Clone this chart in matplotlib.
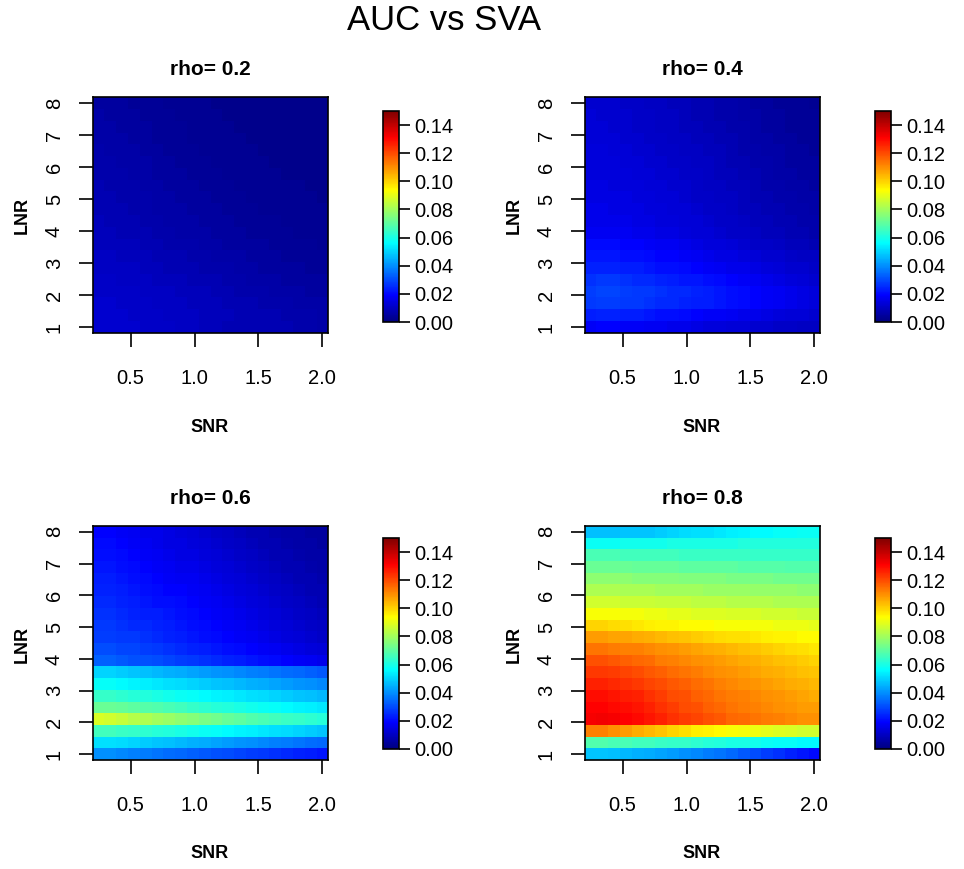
import matplotlib.pyplot as plt
import numpy as np
from matplotlib.colors import LinearSegmentedColormap

plt.rcParams['font.family'] = ['Liberation Sans', 'DejaVu Sans']

# grid of the simulation
snr = [0.25, 0.34, 0.43, 0.53, 0.62, 0.71, 0.80, 0.89, 0.99, 1.08,
       1.17, 1.26, 1.36, 1.45, 1.54, 1.63, 1.72, 1.82, 1.91, 2.00]
lnr = [1.00, 1.37, 1.74, 2.11, 2.47, 2.84, 3.21, 3.58, 3.95, 4.32,
       4.68, 5.05, 5.42, 5.79, 6.16, 6.53, 6.89, 7.26, 7.63, 8.00]

rhos = ["0.2", "0.4", "0.6", "0.8"]

# AUC difference, in thousandths; rows = lnr (bottom to top), cols = snr
auc_rho02 = [
    [12, 12, 12, 12, 11, 11, 11, 10, 10, 9, 9, 8, 8, 8, 8, 8, 8, 7, 7, 6],
    [12, 12, 12, 11, 11, 11, 10, 10, 10, 9, 9, 9, 8, 8, 8, 8, 7, 7, 7, 6],
    [12, 12, 11, 11, 11, 10, 10, 10, 9, 9, 9, 8, 8, 8, 7, 7, 7, 6, 6, 6],
    [11, 11, 11, 11, 10, 10, 10, 9, 9, 9, 8, 8, 7, 7, 7, 6, 6, 6, 5, 5],
    [11, 11, 10, 10, 10, 9, 9, 9, 8, 8, 8, 7, 7, 6, 6, 6, 5, 5, 5, 5],
    [10, 10, 10, 10, 9, 9, 8, 8, 8, 7, 7, 7, 6, 6, 5, 5, 5, 5, 4, 4],
    [10, 10, 9, 9, 9, 8, 8, 8, 7, 7, 6, 6, 6, 5, 5, 5, 4, 4, 4, 4],
    [9, 9, 9, 9, 8, 8, 7, 7, 7, 6, 6, 5, 5, 5, 5, 4, 4, 4, 4, 3],
    [9, 9, 8, 8, 8, 7, 7, 6, 6, 6, 5, 5, 5, 4, 4, 4, 4, 3, 3, 3],
    [9, 8, 8, 8, 7, 7, 6, 6, 6, 5, 5, 5, 4, 4, 4, 4, 3, 3, 3, 3],
    [8, 8, 8, 7, 7, 6, 6, 6, 5, 5, 5, 4, 4, 4, 3, 3, 3, 3, 3, 3],
    [8, 8, 7, 7, 7, 6, 6, 5, 5, 5, 4, 4, 4, 3, 3, 3, 3, 3, 3, 2],
    [8, 7, 7, 7, 6, 6, 5, 5, 5, 4, 4, 4, 3, 3, 3, 3, 3, 3, 2, 2],
    [7, 7, 7, 6, 6, 5, 5, 5, 4, 4, 4, 3, 3, 3, 3, 3, 2, 2, 2, 2],
    [7, 7, 6, 6, 6, 5, 5, 4, 4, 4, 3, 3, 3, 3, 3, 2, 2, 2, 2, 2],
    [7, 6, 6, 6, 5, 5, 4, 4, 4, 3, 3, 3, 3, 3, 2, 2, 2, 2, 2, 2],
    [6, 6, 6, 5, 5, 4, 4, 4, 3, 3, 3, 3, 3, 2, 2, 2, 2, 2, 2, 2],
    [6, 6, 5, 5, 5, 4, 4, 4, 3, 3, 3, 3, 2, 2, 2, 2, 2, 2, 2, 2],
    [6, 5, 5, 5, 4, 4, 4, 3, 3, 3, 3, 2, 2, 2, 2, 2, 2, 2, 2, 2],
    [5, 5, 5, 4, 4, 4, 3, 3, 3, 3, 2, 2, 2, 2, 2, 2, 2, 2, 2, 2],
]

auc_rho04 = [
    [18, 19, 19, 18, 18, 17, 17, 16, 16, 15, 14, 14, 13, 13, 12, 12, 11, 11, 10, 10],
    [23, 24, 24, 23, 23, 22, 21, 21, 20, 19, 18, 18, 17, 16, 16, 15, 14, 13, 13, 12],
    [27, 28, 28, 27, 27, 26, 25, 25, 24, 23, 23, 22, 21, 20, 19, 18, 17, 16, 15, 14],
    [28, 29, 29, 28, 27, 27, 26, 25, 25, 24, 23, 22, 21, 20, 19, 18, 17, 16, 15, 14],
    [26, 27, 27, 26, 25, 25, 24, 23, 22, 22, 21, 20, 19, 18, 17, 16, 15, 14, 13, 12],
    [24, 24, 24, 23, 23, 22, 21, 21, 20, 19, 18, 17, 16, 16, 15, 14, 13, 12, 12, 11],
    [22, 22, 22, 21, 21, 20, 19, 19, 18, 17, 16, 15, 15, 14, 13, 12, 12, 11, 10, 10],
    [20, 20, 20, 19, 19, 18, 17, 17, 16, 15, 14, 14, 13, 12, 11, 11, 10, 9, 9, 8],
    [17, 17, 17, 17, 16, 16, 15, 15, 14, 13, 13, 12, 11, 11, 10, 9, 9, 8, 8, 7],
    [16, 16, 16, 16, 15, 15, 14, 14, 13, 13, 12, 11, 11, 10, 9, 9, 8, 8, 7, 7],
    [16, 16, 15, 15, 15, 14, 14, 13, 13, 12, 11, 11, 10, 9, 9, 8, 8, 7, 7, 6],
    [15, 15, 15, 15, 14, 14, 13, 13, 12, 11, 11, 10, 10, 9, 8, 8, 7, 7, 6, 6],
    [15, 15, 14, 14, 14, 13, 13, 12, 12, 11, 10, 10, 9, 9, 8, 7, 7, 6, 6, 5],
    [14, 14, 14, 14, 13, 13, 12, 12, 11, 11, 10, 9, 9, 8, 8, 7, 6, 6, 5, 5],
    [14, 14, 14, 13, 13, 12, 12, 11, 11, 10, 10, 9, 8, 8, 7, 7, 6, 5, 5, 5],
    [14, 14, 13, 13, 12, 12, 11, 11, 10, 10, 9, 9, 8, 7, 7, 6, 6, 5, 5, 4],
    [13, 13, 13, 12, 12, 11, 11, 10, 10, 9, 9, 8, 8, 7, 6, 6, 5, 5, 4, 4],
    [13, 13, 12, 12, 11, 11, 10, 10, 9, 9, 8, 8, 7, 7, 6, 5, 5, 4, 4, 4],
    [13, 12, 12, 12, 11, 11, 10, 10, 9, 8, 8, 7, 7, 6, 6, 5, 5, 4, 4, 4],
    [12, 12, 12, 11, 11, 10, 10, 9, 9, 8, 8, 7, 7, 6, 5, 5, 4, 4, 4, 3],
]

auc_rho06 = [
    [40, 40, 39, 38, 37, 36, 35, 34, 33, 32, 31, 30, 29, 28, 27, 26, 25, 24, 23, 22],
    [52, 52, 51, 50, 49, 48, 47, 46, 45, 44, 43, 42, 41, 40, 39, 38, 37, 36, 35, 34],
    [66, 66, 65, 64, 63, 62, 61, 60, 59, 58, 57, 56, 55, 54, 53, 52, 51, 50, 49, 48],
    [88, 87, 85, 83, 82, 80, 79, 77, 76, 74, 73, 71, 70, 68, 67, 66, 65, 64, 63, 62],
    [72, 72, 71, 70, 69, 68, 67, 66, 64, 63, 62, 61, 60, 59, 58, 57, 56, 55, 54, 53],
    [64, 64, 63, 62, 61, 60, 59, 58, 57, 56, 55, 54, 53, 52, 51, 50, 49, 48, 47, 46],
    [57, 57, 56, 55, 54, 53, 52, 51, 50, 49, 48, 47, 46, 45, 44, 43, 42, 41, 40, 39],
    [50, 50, 49, 48, 47, 46, 45, 44, 43, 42, 41, 40, 39, 38, 37, 36, 35, 34, 33, 32],
    [33, 33, 32, 31, 31, 30, 29, 28, 27, 26, 25, 24, 23, 22, 21, 20, 19, 18, 17, 16],
    [30, 30, 29, 29, 28, 27, 26, 25, 24, 23, 22, 21, 20, 19, 18, 17, 16, 15, 14, 13],
    [28, 28, 27, 27, 26, 25, 24, 23, 22, 21, 20, 19, 18, 17, 16, 15, 14, 13, 12, 11],
    [27, 27, 26, 25, 25, 24, 23, 22, 21, 20, 19, 18, 17, 16, 15, 14, 13, 12, 11, 10],
    [26, 26, 25, 24, 23, 23, 22, 21, 20, 19, 18, 17, 16, 15, 14, 13, 12, 11, 10, 9],
    [25, 25, 24, 23, 22, 21, 21, 20, 19, 18, 17, 16, 15, 14, 13, 12, 11, 10, 9, 8],
    [24, 24, 23, 22, 21, 20, 19, 19, 18, 17, 16, 15, 14, 13, 12, 11, 10, 9, 8, 8],
    [23, 23, 22, 21, 20, 19, 18, 17, 17, 16, 15, 14, 13, 12, 11, 10, 9, 8, 8, 7],
    [22, 22, 21, 20, 19, 18, 17, 16, 16, 15, 14, 13, 12, 11, 10, 9, 8, 8, 7, 6],
    [21, 21, 20, 19, 18, 17, 16, 15, 15, 14, 13, 12, 11, 10, 9, 8, 8, 7, 6, 6],
    [20, 20, 19, 18, 17, 16, 15, 15, 14, 13, 12, 11, 10, 9, 8, 8, 7, 6, 6, 5],
    [19, 19, 18, 17, 16, 16, 15, 14, 13, 12, 11, 10, 9, 8, 8, 7, 6, 6, 5, 5],
]

auc_rho08 = [
    [48, 48, 47, 46, 45, 44, 43, 42, 40, 39, 37, 36, 34, 32, 30, 28, 26, 24, 22, 20],
    [68, 68, 67, 67, 66, 66, 65, 64, 64, 63, 62, 61, 60, 60, 59, 58, 57, 57, 56, 56],
    [112, 112, 110, 108, 106, 104, 102, 100, 98, 96, 95, 94, 93, 92, 91, 90, 89, 88, 87, 87],
    [132, 133, 132, 131, 130, 128, 126, 124, 122, 121, 119, 118, 116, 115, 114, 113, 112, 111, 110, 110],
    [131, 131, 130, 129, 128, 126, 124, 122, 120, 119, 117, 116, 114, 113, 112, 111, 110, 109, 108, 108],
    [129, 129, 128, 127, 126, 124, 122, 120, 119, 117, 116, 114, 113, 112, 111, 110, 109, 108, 107, 106],
    [126, 126, 125, 124, 123, 121, 120, 118, 117, 115, 114, 112, 111, 110, 109, 108, 107, 106, 105, 104],
    [123, 123, 122, 121, 120, 118, 117, 115, 114, 113, 111, 110, 109, 108, 107, 106, 105, 104, 103, 102],
    [119, 119, 118, 117, 116, 115, 113, 112, 111, 110, 109, 108, 107, 106, 105, 104, 103, 102, 101, 100],
    [114, 114, 113, 112, 112, 111, 110, 109, 108, 107, 106, 105, 104, 103, 102, 101, 100, 99, 98, 97],
    [108, 108, 107, 107, 106, 105, 104, 103, 102, 101, 100, 99, 98, 98, 97, 96, 95, 95, 94, 94],
    [100, 100, 99, 98, 97, 96, 95, 95, 94, 94, 94, 93, 93, 93, 92, 92, 91, 91, 91, 90],
    [93, 93, 93, 92, 92, 91, 91, 90, 90, 89, 89, 89, 88, 88, 88, 87, 87, 87, 86, 86],
    [87, 87, 87, 86, 86, 86, 85, 85, 85, 84, 84, 84, 83, 83, 83, 83, 82, 82, 82, 82],
    [82, 82, 82, 81, 81, 81, 80, 80, 80, 80, 79, 79, 79, 79, 78, 78, 78, 78, 77, 77],
    [77, 77, 77, 77, 76, 76, 76, 76, 75, 75, 75, 75, 74, 74, 74, 74, 73, 73, 73, 73],
    [72, 72, 72, 72, 71, 71, 71, 71, 70, 70, 70, 70, 70, 69, 69, 69, 69, 68, 68, 68],
    [67, 67, 67, 66, 66, 66, 66, 66, 65, 65, 65, 65, 65, 65, 64, 64, 64, 64, 64, 64],
    [58, 58, 58, 59, 59, 59, 59, 60, 60, 60, 60, 60, 60, 61, 61, 61, 61, 61, 61, 61],
    [47, 47, 47, 48, 48, 48, 49, 50, 51, 52, 52, 53, 54, 55, 56, 56, 57, 57, 58, 58],
]

panels = [auc_rho02, auc_rho04, auc_rho06, auc_rho08]

# R style jet.colors
jet = LinearSegmentedColormap.from_list(
    "rjet", ["#00007F", "#0000FF", "#007FFF", "#00FFFF", "#7FFF7F",
             "#FFFF00", "#FF7F00", "#FF0000", "#7F0000"])

W, H = 964, 869


def px_box(left, top, right, bottom):
    return [left / W, 1 - bottom / H, (right - left) / W, (bottom - top) / H]


fig = plt.figure(figsize=(W / 100, H / 100), dpi=100)
fig.text(444 / W, 1 - 20 / H, "AUC vs SVA", ha="center", va="center", fontsize=25)

ax_left = [93, 585]
cb_left = [383, 875]
rows_top = [(97, 333, 111, 322), (526, 760, 538, 749)]

for i, vals in enumerate(panels):
    r, c = divmod(i, 2)
    top, bottom, cb_top, cb_bottom = rows_top[r]
    x0 = ax_left[c]

    ax = fig.add_axes(px_box(x0, top, x0 + 235, bottom))
    z = np.array(vals) / 1000.0
    mesh = ax.pcolormesh(snr, lnr, z, cmap=jet, vmin=0, vmax=0.15, shading="nearest")

    ax.set_xticks([0.5, 1.0, 1.5, 2.0])
    ax.set_xticklabels(["0.5", "1.0", "1.5", "2.0"])
    ax.set_yticks(range(1, 9))
    ax.tick_params(axis="x", length=10, width=1.2, pad=16, labelsize=14.5)
    ax.tick_params(axis="y", length=10, width=1.2, pad=11, labelsize=14.5, labelrotation=90)
    for lab in ax.get_yticklabels():
        lab.set_va("center")
    for sp in ax.spines.values():
        sp.set_linewidth(1.2)

    ax.set_title("rho= " + rhos[i], fontsize=15, fontweight="bold", pad=16)

    # axis labels placed like R's mtext lines
    fig.text((x0 + 117) / W, 1 - (bottom + 94) / H, "SNR", ha="center", va="center",
             fontsize=13, fontweight="bold")
    fig.text((x0 - 71) / W, 1 - (top + 118) / H, "LNR", ha="center", va="center",
             rotation=90, fontsize=13, fontweight="bold")

    cax = fig.add_axes(px_box(cb_left[c], cb_top, cb_left[c] + 16, cb_bottom))
    cb = fig.colorbar(mesh, cax=cax)
    cb.set_ticks([0.0, 0.02, 0.04, 0.06, 0.08, 0.10, 0.12, 0.14])
    cb.set_ticklabels(["0.00", "0.02", "0.04", "0.06", "0.08", "0.10", "0.12", "0.14"])
    cb.ax.tick_params(length=8, width=1.2, labelsize=14.5, pad=3)
    cb.outline.set_linewidth(1.2)

fig.savefig("out.png", dpi=100)
